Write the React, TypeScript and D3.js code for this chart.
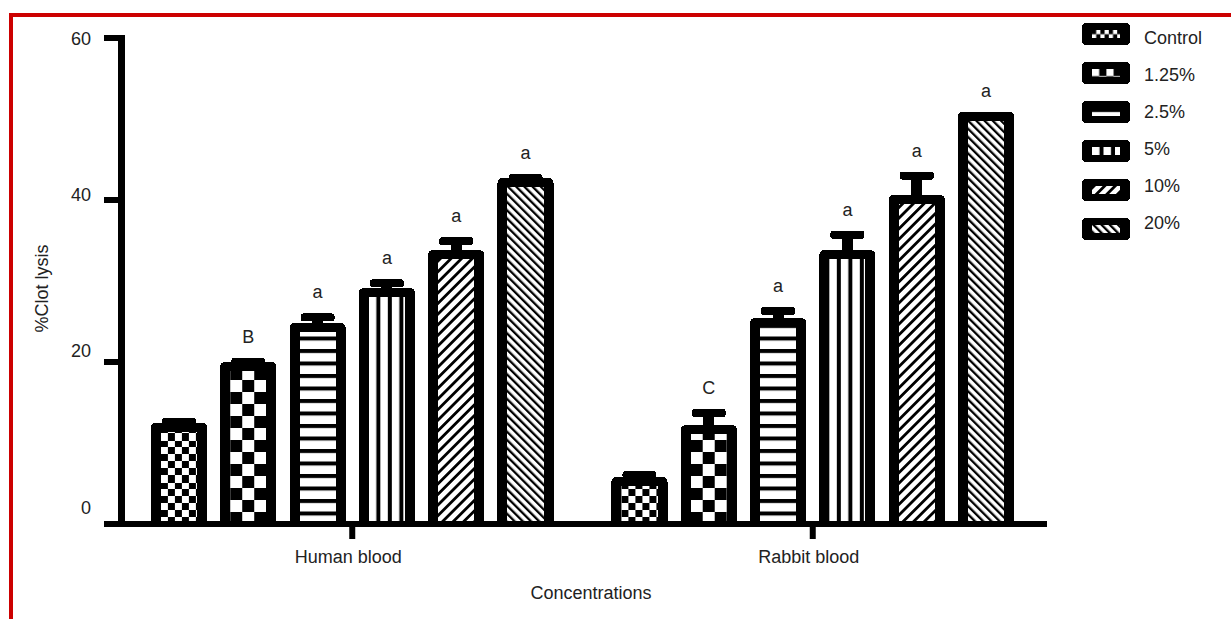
import React from 'react';
import * as d3 from 'd3';

const groups = ['Human blood', 'Rabbit blood'];
const series = ['Control', '1.25%', '2.5%', '5%', '10%', '20%'];
const humanMeans = [12.5, 20.0, 24.8, 29.1, 33.8, 42.7];
const humanErrors = [0.6, 0.5, 1.2, 1.1, 1.6, 0.5];
const rabbitMeans = [5.8, 12.2, 25.4, 33.8, 40.6, 50.9];
const rabbitErrors = [0.7, 2.0, 1.4, 2.4, 2.9, 0];
const humanLetters = ['', 'B', 'a', 'a', 'a', 'a'];
const rabbitLetters = ['', 'C', 'a', 'a', 'a', 'a'];
const yTicks = [0, 20, 40, 60];
const xTitle = 'Concentrations';
const yTitle = '%Clot lysis';

const W = 1231;
const H = 619;
const FONT = "'Liberation Sans', Arial, Helvetica, sans-serif";
const TEXT = '#222';

const groupData = [
  { name: groups[0], means: humanMeans, errors: humanErrors, letters: humanLetters },
  { name: groups[1], means: rabbitMeans, errors: rabbitErrors, letters: rabbitLetters },
];

function PatternContent({ k }: { k: number }) {
  if (k === 0) {
    return (
      <>
        <rect x={0} y={0} width={14} height={14} fill="#fff" />
        <rect x={0} y={0} width={7} height={7} fill="#000" />
        <rect x={7} y={7} width={7} height={7} fill="#000" />
      </>
    );
  }
  if (k === 1) {
    return (
      <>
        <rect x={0} y={0} width={24} height={24} fill="#fff" />
        <rect x={12} y={0} width={12} height={12} fill="#000" />
        <rect x={0} y={12} width={12} height={12} fill="#000" />
      </>
    );
  }
  if (k === 2) {
    return (
      <>
        <rect x={0} y={0} width={10} height={12.5} fill="#fff" />
        <rect x={0} y={0} width={10} height={4} fill="#000" />
      </>
    );
  }
  if (k === 3) {
    return (
      <>
        <rect x={0} y={0} width={11.5} height={10} fill="#fff" />
        <rect x={7.5} y={0} width={4} height={10} fill="#000" />
      </>
    );
  }
  if (k === 4) {
    return (
      <>
        <rect x={0} y={0} width={7.5} height={10} fill="#fff" />
        <rect x={0} y={0} width={2.8} height={10} fill="#000" />
      </>
    );
  }
  return (
    <>
      <rect x={0} y={0} width={5.8} height={10} fill="#fff" />
      <rect x={0} y={0} width={2.3} height={10} fill="#000" />
    </>
  );
}

const patternSize = (k: number): [number, number] => {
  if (k === 0) return [14, 14];
  if (k === 1) return [24, 24];
  if (k === 2) return [10, 12.5];
  if (k === 3) return [11.5, 10];
  if (k === 4) return [7.5, 10];
  return [5.8, 10];
};
const patternRot = (k: number) => (k === 4 ? 45 : k === 5 ? -45 : 0);

function Pattern({ id, k, ox, oy, sc = 1 }: { id: string; k: number; ox: number; oy: number; sc?: number }) {
  const [pw, ph] = patternSize(k);
  const rot = patternRot(k);
  return (
    <pattern
      id={id}
      patternUnits="userSpaceOnUse"
      width={pw}
      height={ph}
      patternTransform={`translate(${ox},${oy}) rotate(${rot}) scale(${sc})`}
    >
      <PatternContent k={k} />
    </pattern>
  );
}

function topRoundedPath(x: number, top: number, w: number, base: number, r: number) {
  return `M${x},${base}V${top + r}Q${x},${top} ${x + r},${top}H${x + w - r}Q${x + w},${top} ${x + w},${top + r}V${base}Z`;
}

export default function App() {
  const y = d3.scaleLinear().domain([0, 60]).range([524, 38]);
  const yLabel = d3.scaleLinear().domain([0, 60]).range([507, 38]);
  const x0 = d3.scaleBand<string>().domain(groups).range([122, 1043]).paddingInner(0.097).paddingOuter(0.0485);
  const x1 = d3.scaleBand<string>().domain(series).range([0, x0.bandwidth()]).paddingInner(0.19).paddingOuter(0.095);
  const bw = x1.bandwidth();
  const base = y(0);
  const side = 10;
  const topB = 9;

  const legendSwatchY = d3.scaleLinear().domain([0, 1]).range([34, 73]);
  const legendTextY = d3.scaleLinear().domain([0, 1]).range([37, 74]);
  const legX = 1082;
  const legW = 48;
  const legH = 22;

  const defs: React.ReactNode[] = [];
  const marks: React.ReactNode[] = [];

  groupData.forEach((g, gi) => {
    g.means.forEach((v, i) => {
      const bx = (x0(g.name) as number) + (x1(series[i]) as number);
      const top = y(v);
      const id = `pat-${gi}-${i}`;
      defs.push(<Pattern key={id} id={id} k={i} ox={bx + side} oy={base} />);
      const e = g.errors[i];
      const cx = bx + bw / 2;
      const capTop = y(v + e);
      marks.push(
        <g key={`bar-${gi}-${i}`}>
          {e > 0 && (
            <>
              <rect x={cx - 5.5} y={capTop} width={11} height={top - capTop + 3} fill="#000" />
              <rect x={cx - 17} y={capTop} width={34} height={8} rx={3} fill="#000" />
            </>
          )}
          <path d={topRoundedPath(bx, top, bw, base, 5)} fill="#000" />
          <rect x={bx + side} y={top + topB} width={bw - 2 * side} height={base - top - topB} fill={`url(#${id})`} />
          {g.letters[i] && (
            <text x={cx} y={Math.min(capTop, top) - 15} textAnchor="middle" fontSize={18} fill={TEXT} fontFamily={FONT}>
              {g.letters[i]}
            </text>
          )}
        </g>
      );
    });
  });

  series.forEach((s, i) => {
    const cy = legendSwatchY(i);
    const id = `leg-${i}`;
    defs.push(<Pattern key={id} id={id} k={i} ox={legX + 10} oy={cy - 4} sc={i < 2 ? 0.6 : 1} />);
  });

  return (
    <svg
      width={W}
      height={H}
      viewBox={`0 0 ${W} ${H}`}
      style={{ position: 'absolute', left: 0, top: 0, background: '#fff' }}
      fontFamily={FONT}
    >
      <defs>{defs}</defs>
      <rect x={0} y={0} width={W} height={H} fill="#fff" />
      <path d={`M11,${H}V15H${W}`} fill="none" stroke="#cc0000" strokeWidth={4} />

      <g shapeRendering="crispEdges">{marks}</g>

      {/* axes */}
      <rect x={104} y={base - 3} width={943} height={6} fill="#000" />
      <rect x={118} y={y(60) - 3} width={7} height={base + 3 - (y(60) - 3)} fill="#000" />
      {yTicks.map((t) => (
        <g key={`yt-${t}`}>
          <rect x={104} y={y(t) - 3} width={17} height={6} fill="#000" />
          <text x={91} y={yLabel(t) + 6.5} textAnchor="end" fontSize={18} fill={TEXT}>
            {t}
          </text>
        </g>
      ))}
      {groups.map((gname) => {
        const cx = (x0(gname) as number) + x0.bandwidth() / 2;
        return (
          <g key={`xt-${gname}`}>
            <rect x={cx - 3} y={base} width={6} height={15} fill="#000" />
            <text x={cx - 4} y={563} textAnchor="middle" fontSize={18} fill={TEXT}>
              {gname}
            </text>
          </g>
        );
      })}
      <text x={591} y={599} textAnchor="middle" fontSize={18} fill={TEXT}>
        {xTitle}
      </text>
      <text transform="translate(48,288.5) rotate(-90)" textAnchor="middle" fontSize={18} fill={TEXT}>
        {yTitle}
      </text>

      {/* legend */}
      <g shapeRendering="crispEdges">
        {series.map((s, i) => {
          const cy = legendSwatchY(i);
          return (
            <g key={`leg-${s}`}>
              <rect x={legX} y={cy - legH / 2} width={legW} height={legH} rx={4} fill="#000" />
              <rect x={legX + 10} y={cy - 4} width={legW - 20} height={8} fill={`url(#leg-${i})`} />
            </g>
          );
        })}
      </g>
      {series.map((s, i) => (
        <text key={`legt-${s}`} x={1144} y={legendTextY(i) + 6.5} fontSize={18} fill={TEXT}>
          {s}
        </text>
      ))}
    </svg>
  );
}
